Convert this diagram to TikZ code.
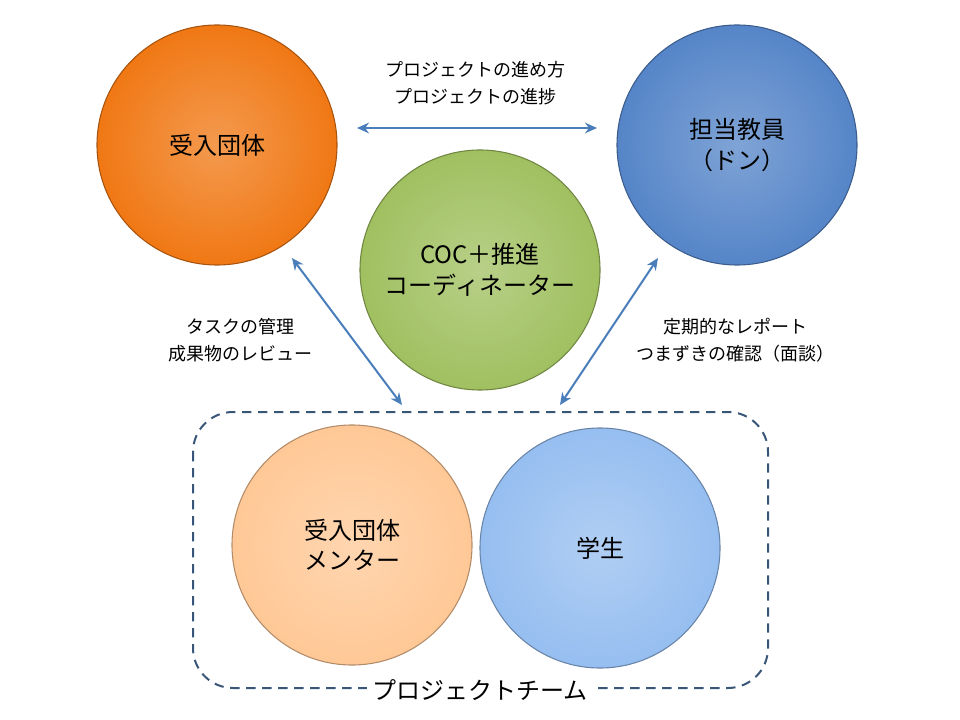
\documentclass[tikz,border=0pt]{standalone}
\usepackage{fontspec}
\setmainfont{Noto Sans CJK JP}
\usetikzlibrary{arrows.meta}
\definecolor{orangeC}{RGB}{240,120,20}
\definecolor{blueC}{RGB}{85,133,200}
\definecolor{greenC}{RGB}{160,192,96}
\definecolor{peachC}{RGB}{255,200,150}
\definecolor{skyC}{RGB}{150,190,240}
\definecolor{arrowC}{RGB}{74,126,187}
\definecolor{teamC}{RGB}{56,86,120}
\tikzset{
	ball/.style={circle, minimum size=180pt, inner sep=0pt, align=center, font=\fontsize{18}{23}\selectfont,
		inner color=#1!75!white, outer color=#1, draw=#1!70!black, line width=0.8pt},
	link/.style={draw=arrowC, line width=1.5pt, {Stealth[length=9pt,width=8pt]}-{Stealth[length=9pt,width=8pt]}},
	note/.style={align=center, font=\fontsize{13.5}{20}\selectfont}}

\begin{document}
\begin{tikzpicture}[x=0.75pt,y=0.75pt,yscale=-1,xscale=1]
	\useasboundingbox (0,0) rectangle (960,720);

	% team frame
	\draw [teamC, line width=1.5pt, dash pattern=on 7pt off 5pt, rounded corners=30pt] (193,412) rectangle (768,688);
	\node (team) [fill=white, font=\fontsize{18}{22}\selectfont, inner sep=4pt] at (480,690) {プロジェクトチーム};

	% circles
	\node (host) [ball=orangeC] at (217,145) {受入団体};
	\node (teacher) [ball=blueC] at (737,145) {担当教員\\（ドン）};
	\node (coord) [ball=greenC] at (480,270) {COC＋推進\\コーディネーター};
	\node (mentor) [ball=peachC] at (352,545) {受入団体\\メンター};
	\node (student) [ball=skyC] at (600,548) {学生};

	% arrow ends
	\coordinate (hostR) at (357,128);
	\coordinate (teacherL) at (597,128);
	\coordinate (hostB) at (292,258);
	\coordinate (teamL) at (402,405);
	\coordinate (teacherB) at (658,258);
	\coordinate (teamR) at (560,405);

	\draw [link] (hostR) -- (teacherL);
	\draw [link] (hostB) -- (teamL);
	\draw [link] (teacherB) -- (teamR);

	% labels
	\node (topnote) [note] at (475,83) {プロジェクトの進め方\\プロジェクトの進捗};
	\node (leftnote) [note] at (240,340) {タスクの管理\\成果物のレビュー};
	\node (rightnote) [note] at (735,340) {定期的なレポート\\つまずきの確認（面談）};
\end{tikzpicture}
\end{document}
